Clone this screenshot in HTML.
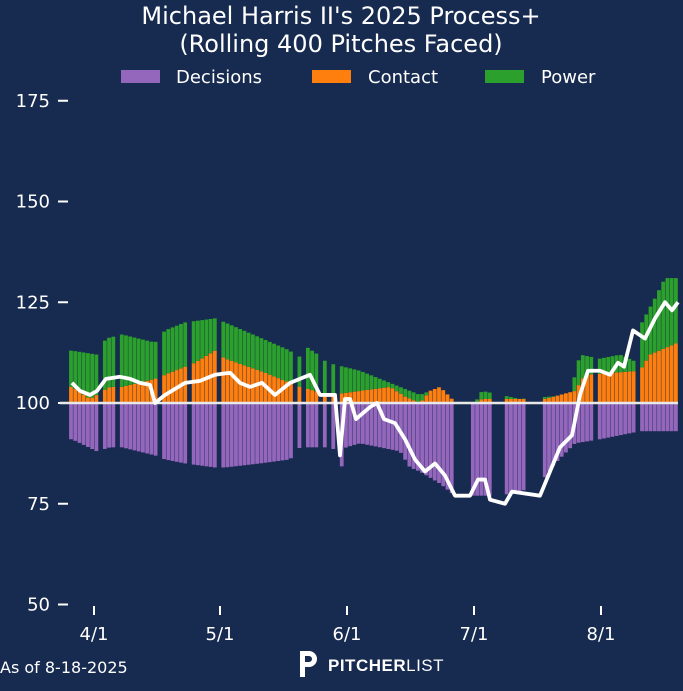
<!DOCTYPE html><html><head><meta charset="utf-8"><style>
body{margin:0;background:#172a4f;}
svg{display:block;font-family:"Liberation Sans","DejaVu Sans",sans-serif;}
</style></head><body>
<svg id="s" width="683" height="691" viewBox="0 0 683 691">
<rect width="683" height="691" fill="#172a4f"/>
<text x="341" y="24" fill="#fff" font-size="24" text-anchor="middle" font-family="DejaVu Sans">Michael Harris II's 2025 Process+</text>
<text x="341" y="52" fill="#fff" font-size="24" text-anchor="middle" font-family="DejaVu Sans">(Rolling 400 Pitches Faced)</text>
<rect x="121" y="70" width="39" height="13" fill="#9467bd"/><text x="176" y="83" fill="#fff" font-size="18" font-family="DejaVu Sans">Decisions</text>
<rect x="312" y="70" width="39" height="13" fill="#ff7f0e"/><text x="368" y="83" fill="#fff" font-size="18" font-family="DejaVu Sans">Contact</text>
<rect x="485" y="70" width="39" height="13" fill="#2ca02c"/><text x="541" y="83" fill="#fff" font-size="18" font-family="DejaVu Sans">Power</text>
<g id="ax" fill="#fff" font-size="18" font-family="DejaVu Sans"></g>
<g id="bars"></g>
<line x1="60" x2="678" y1="403" y2="403" stroke="#e8e8e8" stroke-width="2.5"/>
<polyline id="ln" fill="none" stroke="#fff" stroke-width="3.8" stroke-linejoin="round"/>
<text x="0" y="673" fill="#fff" font-size="16" font-family="DejaVu Sans">As of 8-18-2025</text>
<path d="M300 651h9a8 8 0 0 1 0 16h-4v10h-5z M305 656v6h4a3 3 0 0 0 0-6z" fill="#fff" fill-rule="evenodd"/>
<text x="328" y="671" fill="#fff" font-size="17" font-weight="bold" letter-spacing="0.5">PITCHER<tspan font-weight="normal">LIST</tspan></text>
</svg>
<script>
const Y=v=>403-(v-100)*4.03;
let ax='';
[50,75,100,125,150,175].forEach(v=>{const y=Y(v);ax+=`<text x="50" y="${y+6}" text-anchor="end">${v}</text><rect x="58" y="${y-1}" width="10" height="2"/>`;});
[['4/1',94],['5/1',220],['6/1',347],['7/1',474],['8/1',601]].forEach(([t,x])=>{ax+=`<rect x="${x-1}" y="606" width="2" height="9"/><text x="${x}" y="640" text-anchor="middle">${t}</text>`;});
document.getElementById('ax').innerHTML=ax;
function interp(k,x){if(x<=k[0][0])return k[0][1];for(let i=1;i<k.length;i++){if(x<=k[i][0]){const[a,b]=k[i-1],[c,d]=k[i];return b+(d-b)*(x-a)/(c-a);}}return k[k.length-1][1];}
const P=[[72,91],[97,88],[110,89],[122,89],[155,87],[165,86],[185,85],[215,84],[225,84],[260,85],[290,86],[300,89],[330,89],[338,88],[342,84],[346,89],[360,90],[400,88],[410,84],[420,83],[440,80],[455,77],[500,77],[520,78],[540,80],[555,85],[575,90],[600,91],[640,93],[678,93]];
const O=[[72,104],[90,101],[110,104],[122,104],[155,106],[165,107],[185,109],[195,110],[215,113],[225,111],[260,108],[290,105],[300,104],[330,102],[360,103],[390,104],[405,101.6],[420,100],[430,103],[440,104],[452,101],[475,100],[482,101],[520,101],[545,101],[575,103],[585,107],[640,108],[650,112],[678,115]];
const G=[[72,113],[97,112],[106,116],[122,117],[155,115],[165,118],[185,120],[215,121],[225,120],[290,113],[298,111],[306,114],[318,112],[327,110],[360,108],[400,104],[420,102],[440,104],[452,101],[475,100],[482,103],[520,101],[570,102],[580,112],[600,111],[620,112],[638,110],[642,120],[655,126],[665,131],[678,131]];
const gaps=[101,116,159,189,218,294,302,322,331,339,458,462,466,470,495,499,503,527,531,535,539,597,636];
let b='';
for(let x=71;x<=677;x+=4.23){
 if(gaps.some(g=>Math.abs(g-x)<2.2))continue;
 const p=interp(P,x),o=interp(O,x),g=Math.max(interp(G,x),o);
 const w=3.8;
 b+=`<rect x="${x-w/2}" y="${Y(100)}" width="${w}" height="${Y(p)-Y(100)}" fill="#9467bd"/>`;
 if(o>100)b+=`<rect x="${x-w/2}" y="${Y(o)}" width="${w}" height="${Y(100)-Y(o)}" fill="#ff7f0e"/>`;
 if(g>o)b+=`<rect x="${x-w/2}" y="${Y(g)}" width="${w}" height="${Y(o)-Y(g)}" fill="#2ca02c"/>`;
}
document.getElementById('bars').innerHTML=b;
const L=[[72,105],[80,103],[90,102],[97,103],[106,106],[120,106.5],[130,106],[140,105],[150,104.5],[155,100],[165,102],[185,105],[200,105.5],[215,107],[230,107.5],[240,105],[250,104],[262,105],[275,102],[290,105],[310,107],[320,102],[335,102],[340,87],[345,101],[350,101],[356,96],[370,99],[377,100],[384,96],[395,95],[405,91],[415,86],[425,83],[435,85],[445,82],[455,77],[470,77],[478,81],[485,81],[490,76],[505,75],[512,78],[540,77],[550,83],[560,89],[572,92],[580,102],[588,108],[600,108],[610,107],[618,110],[624,109],[633,118],[645,116],[655,121],[665,125],[672,123],[678,125]];
document.getElementById('ln').setAttribute('points',L.map(([x,v])=>x+','+Y(v)).join(' '));
</script>
</body></html>
